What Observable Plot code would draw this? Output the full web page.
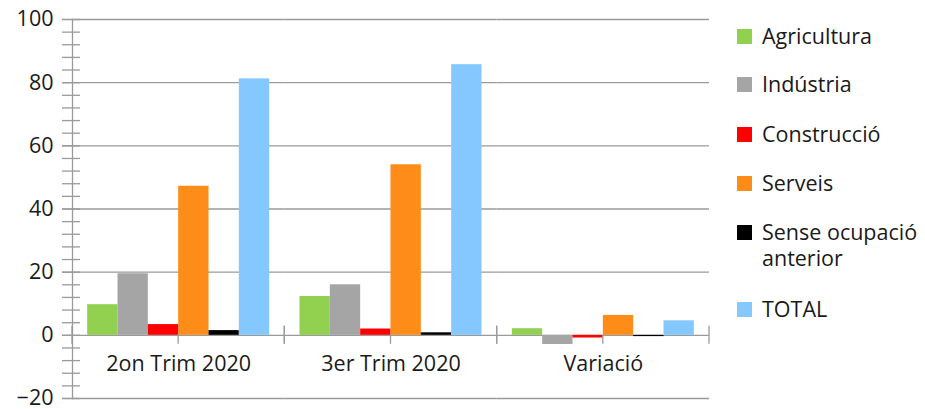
<!DOCTYPE html>
<html>
<head>
<meta charset="utf-8">
<script src="https://cdn.jsdelivr.net/npm/d3@7"></script>
<script src="https://cdn.jsdelivr.net/npm/@observablehq/plot@0.6"></script>
<style>
  html, body { margin: 0; padding: 0; background: #fff; }
  #wrap { position: relative; width: 925px; height: 409px; font-family: "Open Sans", sans-serif; color: #1a1a1a; }
  #chart { position: absolute; left: 0; top: 0; }
  #legend { position: absolute; left: 737px; top: 0; width: 188px; }
  .item { position: absolute; left: 0; display: flex; align-items: flex-start; font-size: 21.5px; line-height: 26px; white-space: nowrap; }
  .sw { width: 15px; height: 15px; margin-top: 6px; margin-right: 10px; flex: none; }
</style>
</head>
<body>
<div id="wrap"><div id="chart"></div><div id="legend"></div></div>
<script>
const categories = ["2on Trim 2020", "3er Trim 2020", "Variació"];
const series = ["Agricultura", "Indústria", "Construcció", "Serveis", "Sense ocupació anterior", "TOTAL"];
const legendLabels = ["Agricultura", "Indústria", "Construcció", "Serveis", "Sense ocupació\nanterior", "TOTAL"];
const colors = ["#92d050", "#a5a5a5", "#ff0000", "#fe8c18", "#000000", "#85c8ff"];
const trim2 = [9.7, 19.5, 3.4, 47.2, 1.5, 81.2];
const trim3 = [12.3, 16.0, 2.0, 54.0, 0.8, 85.7];
const variacio = [2.1, -2.9, -0.85, 6.3, -0.4, 4.6];
const yTicks = [-20, 0, 20, 40, 60, 80, 100];

const valuesByCat = [trim2, trim3, variacio];
const data = categories.flatMap((c, ci) => series.map((s, si) => ({cat: c, series: s, value: valuesByCat[ci][si]})));

const minorTicks = d3.range(-20, 100.01, 4);
const gridColor = "#9a9a9a";

// category ticks on the zero line, drawn per facet
function catTicks(index, scales, values, dimensions) {
  const g = d3.create("svg:g").attr("stroke", gridColor).attr("stroke-width", 1.3);
  const y0 = scales.y(0);
  const w = dimensions.width - dimensions.marginLeft - dimensions.marginRight;
  const x0 = dimensions.marginLeft;
  g.append("line").attr("x1", x0).attr("x2", x0).attr("y1", y0 - 9).attr("y2", y0 + 9);
  g.append("line").attr("x1", x0 + w).attr("x2", x0 + w).attr("y1", y0 - 9).attr("y2", y0 + 9);
  g.append("line").attr("x1", x0 + w / 2).attr("x2", x0 + w / 2).attr("y1", y0).attr("y2", y0 + 9);
  return g.node();
}

const plot = Plot.plot({
  width: 925,
  height: 409,
  marginLeft: 72,
  marginRight: 216,
  marginTop: 19,
  marginBottom: 11,
  style: {fontFamily: "Open Sans, sans-serif", fontSize: "21px", color: "#1a1a1a", background: "white", overflow: "visible"},
  fx: {domain: categories, padding: 0, round: false, axis: null},
  x: {domain: series, paddingInner: 0, paddingOuter: 0.5, round: false, axis: null},
  y: {domain: [-20, 100], axis: null},
  color: {domain: series, range: colors},
  marks: [
    Plot.ruleY(yTicks, {stroke: gridColor, strokeWidth: 1.3}),
    Plot.barY(data, {fx: "cat", x: "series", y: "value", fill: "series", inset: 0}),
    Plot.frame({anchor: "left", facetAnchor: "left", stroke: gridColor, strokeWidth: 1.3}),
    Plot.axisY(minorTicks, {tickSize: 18, dx: 8, tickFormat: null, text: null, label: null, stroke: gridColor, strokeWidth: 1.3, facetAnchor: "left"}),
    Plot.axisY(yTicks, {tickSize: 10, tickPadding: 9, label: null, stroke: gridColor, strokeWidth: 1.3, fill: "#1a1a1a", facetAnchor: "left", fontSize: 21.5}),
    catTicks,
    Plot.text(categories, {fx: d => d, y: -9.2, text: d => d, fill: "#1a1a1a", fontSize: 21.5, lineAnchor: "middle"})
  ]
});
document.getElementById("chart").appendChild(plot);

const rowTops = [23, 71, 121, 170, 219, 296];
const legend = d3.select("#legend");
legendLabels.forEach((lab, i) => {
  const item = legend.append("div").attr("class", "item").style("top", rowTops[i] + "px");
  item.append("div").attr("class", "sw").style("background", colors[i]);
  item.append("div").style("white-space", "pre").text(lab);
});
</script>
</body>
</html>
